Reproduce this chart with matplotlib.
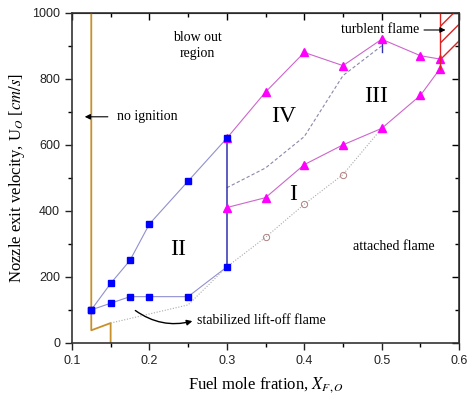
import matplotlib.pyplot as plt
from matplotlib.patches import Polygon

# blue squares (lift-off boundaries)
sq_up_x = [0.125, 0.15, 0.175, 0.2, 0.25, 0.3]
sq_up_y = [100, 180, 250, 360, 490, 620]
sq_lo_x = [0.125, 0.15, 0.175, 0.2, 0.25, 0.3]
sq_lo_y = [100, 120, 140, 140, 140, 230]

# magenta triangles
tri_up_x = [0.3, 0.35, 0.4, 0.45, 0.5, 0.55, 0.575]
tri_up_y = [620, 760, 880, 840, 920, 870, 860]
tri_lo_x = [0.3, 0.35, 0.4, 0.45, 0.5, 0.55, 0.575]
tri_lo_y = [410, 440, 540, 600, 650, 750, 830]

# open circles, dotted boundary
circ_x = [0.35, 0.4, 0.45]
circ_y = [320, 420, 510]
dot_x = [0.15, 0.25, 0.3, 0.35, 0.4, 0.45, 0.5]
dot_y = [60, 115, 230, 320, 420, 510, 650]

# dashed boundary between III and IV
dash_x = [0.3, 0.35, 0.4, 0.45, 0.5]
dash_y = [470, 530, 625, 810, 900]

# no-ignition limit
ign_x = [0.125, 0.125, 0.15, 0.15]
ign_y = [1000, 38, 60, 0]

serif = 'Liberation Serif'
plt.rcParams['font.family'] = 'Liberation Sans'
plt.rcParams['mathtext.fontset'] = 'stix'

fig = plt.figure(figsize=(4.7, 4.01), dpi=100)
ax = fig.add_axes([0.153, 0.145, 0.824, 0.823])

ax.plot(ign_x, ign_y, color='#c8902a', lw=1.3)
ax.plot(dash_x, dash_y, color='#8888aa', lw=0.8, ls=(0, (3, 2)))
ax.plot(dot_x, dot_y, color='#aaaaaa', lw=0.8, ls=(0, (1, 1.5)))
ax.plot(circ_x, circ_y, ls='none', marker='o', ms=4.5, mfc='none', mec='#b08080', mew=0.7)
ax.plot([0.3, 0.3], [230, 620], color='#3030b0', lw=1.1)
ax.plot([0.5, 0.5], [880, 910], color='#3030b0', lw=1.0)
ax.plot(tri_up_x, tri_up_y, color='#cc66cc', lw=0.8, marker='^', ms=5.5, mfc='#ff00ff', mec='#ff00ff')
ax.plot(tri_lo_x, tri_lo_y, color='#cc66cc', lw=0.8, marker='^', ms=5.5, mfc='#ff00ff', mec='#ff00ff')
ax.plot(sq_up_x, sq_up_y, color='#9090d0', lw=0.8, marker='s', ms=4.5, mfc='#0000ff', mec='#0000ff')
ax.plot(sq_lo_x, sq_lo_y, color='#9090d0', lw=0.8, marker='s', ms=4.5, mfc='#0000ff', mec='#0000ff')

# turbulent flame hatched zone
ax.add_patch(Polygon([(0.575, 830), (0.575, 1000), (0.6, 1000), (0.6, 880)],
                     closed=True, fill=False, hatch='//', edgecolor='#dd2222', lw=0))
ax.plot([0.575, 0.575], [830, 1000], color='#dd2222', lw=1.0)

ax.text(0.262, 900, 'blow out\nregion', fontsize=10, family=serif, ha='center', va='center',
        linespacing=1.3)
ax.annotate('', xy=(0.113, 685), xytext=(0.15, 685),
            arrowprops=dict(arrowstyle='-|>', color='k', lw=0.8, mutation_scale=8))
ax.text(0.158, 685, 'no ignition', fontsize=10, family=serif, va='center')
ax.text(0.548, 948, 'turblent flame', fontsize=10, family=serif, va='center', ha='right')
ax.annotate('', xy=(0.586, 948), xytext=(0.551, 948),
            arrowprops=dict(arrowstyle='-|>', color='k', lw=0.8, mutation_scale=8))
ax.text(0.373, 685, 'IV', fontsize=17, family=serif, ha='center', va='center')
ax.text(0.493, 745, 'III', fontsize=17, family=serif, ha='center', va='center')
ax.text(0.237, 282, 'II', fontsize=17, family=serif, ha='center', va='center')
ax.text(0.386, 450, 'I', fontsize=17, family=serif, ha='center', va='center')
ax.text(0.515, 291, 'attached flame', fontsize=10, family=serif, ha='center', va='center')
ax.text(0.262, 68, 'stabilized lift-off flame', fontsize=10, family=serif, va='center')
ax.annotate('', xy=(0.259, 68), xytext=(0.179, 103),
            arrowprops=dict(arrowstyle='-|>', color='k', lw=1.0, mutation_scale=8,
                            connectionstyle='arc3,rad=0.25'))

ax.set_xlim(0.1, 0.6)
ax.set_ylim(0, 1000)
ax.set_xticks([0.1, 0.2, 0.3, 0.4, 0.5, 0.6])
ax.set_xticklabels(['0.1', '0.2', '0.3', '0.4', '0.5', '0.6'])
ax.set_xticks([0.15, 0.25, 0.35, 0.45, 0.55], minor=True)
ax.set_yticks(range(0, 1001, 200))
ax.set_yticks(range(100, 1000, 200), minor=True)
ax.tick_params(which='major', direction='out', length=5, width=1, labelsize=9, colors='#222222')
ax.tick_params(which='minor', direction='out', length=3, width=1)
for s in ax.spines.values():
    s.set_linewidth(1.2)
    s.set_color('#333333')

# mirrored ticks pointing in on top and right
top = ax.secondary_xaxis('top')
top.set_xticks([0.1, 0.2, 0.3, 0.4, 0.5, 0.6])
top.set_xticks([0.15, 0.25, 0.35, 0.45, 0.55], minor=True)
top.tick_params(which='both', direction='in', labeltop=False, width=1)
top.tick_params(which='major', length=5)
top.tick_params(which='minor', length=3)
right = ax.secondary_yaxis('right')
right.set_yticks(range(0, 1001, 200))
right.set_yticks(range(100, 1000, 200), minor=True)
right.tick_params(which='both', direction='in', labelright=False, width=1)
right.tick_params(which='major', length=5)
right.tick_params(which='minor', length=3)

ax.set_xlabel('Fuel mole fration, $X_{F,O}$', family=serif, fontsize=12, labelpad=6)
ax.set_ylabel('Nozzle exit velocity, U$_O$ [$cm/s$]', family=serif, fontsize=12, labelpad=4)

fig.savefig('out.png', dpi=100)
